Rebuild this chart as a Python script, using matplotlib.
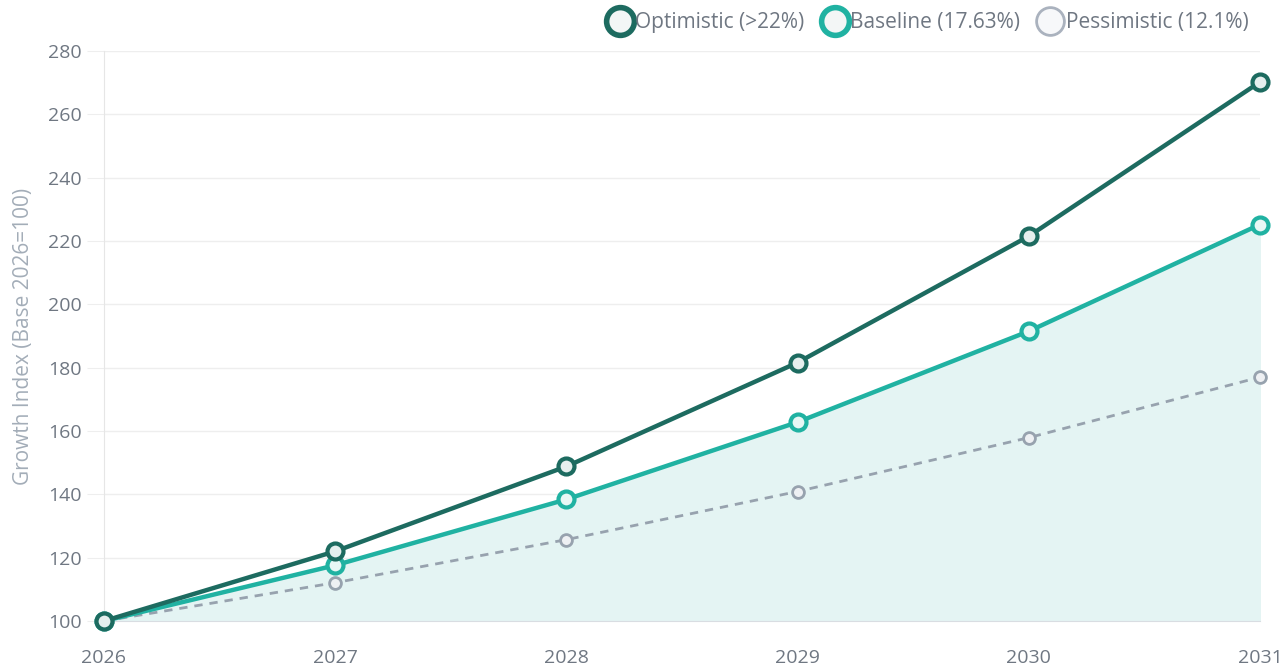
import matplotlib.pyplot as plt
from matplotlib.lines import Line2D

# Índice de crecimiento por escenario (base 2026 = 100)
years = [2026, 2027, 2028, 2029, 2030, 2031]
optimistic = [100, 122.0, 148.8, 181.6, 221.5, 270.2]
baseline = [100, 117.6, 138.4, 162.8, 191.5, 225.2]
pessimistic = [100, 112.1, 125.7, 140.9, 157.9, 177.0]
labels = ["Optimistic (>22%)", "Baseline (17.63%)", "Pessimistic (12.1%)"]

plt.rcParams['font.family'] = ['Open Sans', 'DejaVu Sans']

c_opt = "#1d6b60"
c_base = "#20b2a2"
c_pes = "#97a2ae"

fig = plt.figure(figsize=(12.83, 6.69), dpi=100)
ax = fig.add_axes([0.081, 0.0717, 0.901, 0.8521])

ax.fill_between(years, baseline, 100, color="#e4f4f3", zorder=1)

ax.plot(years, pessimistic, color=c_pes, lw=2, ls=(0, (3, 2.5)), marker="o",
        ms=8.5, mfc="#eef0f3", mec=c_pes, mew=2, zorder=3, clip_on=False)
ax.plot(years, baseline, color=c_base, lw=3.2, marker="o",
        ms=11.5, mfc="#e8f7f5", mec=c_base, mew=3, zorder=4, clip_on=False)
ax.plot(years, optimistic, color=c_opt, lw=3.2, marker="o",
        ms=11.5, mfc="#e6efee", mec=c_opt, mew=3, zorder=5, clip_on=False)

ax.set_xlim(2026, 2031)
ax.set_ylim(100, 280)
ax.set_yticks(range(100, 281, 20))
ax.set_xticks(years)
ax.grid(axis="y", color="#eeeeee", lw=1)
ax.set_axisbelow(True)
for s in ["top", "right"]:
    ax.spines[s].set_visible(False)
ax.spines["left"].set_color("#e6e6e6")
ax.spines["bottom"].set_color("#d9dde2")
ax.tick_params(axis="y", length=12, color="#eeeeee", labelcolor="#6f7782", labelsize=14, pad=4)
ax.tick_params(axis="x", length=0, labelcolor="#6f7782", labelsize=14, pad=20)
ax.set_ylabel("Growth Index (Base 2026=100)", color="#a3adb8", fontsize=15, labelpad=10)

handles = [
    Line2D([], [], ls="none", marker="o", ms=20, mfc="#f3f6f6", mec=c_opt, mew=4),
    Line2D([], [], ls="none", marker="o", ms=20, mfc="#f3f6f6", mec=c_base, mew=4),
    Line2D([], [], ls="none", marker="o", ms=20, mfc="#f7f8fa", mec="#aab2be", mew=2),
]
fig.legend(handles, labels, loc="upper right", bbox_to_anchor=(0.988, 1.01), ncol=3,
           frameon=False, fontsize=15, handletextpad=0.2, columnspacing=0.9,
           labelcolor="#6f7782", handlelength=1.1)

fig.savefig("out.png", dpi=100)
